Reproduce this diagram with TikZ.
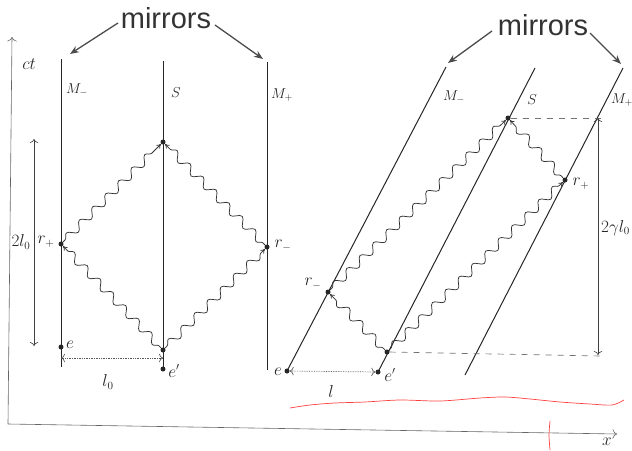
\documentclass[tikz,border=0pt]{standalone}
\usepackage{fontspec}
\newfontfamily\mirfont{Liberation Sans}
\usetikzlibrary{arrows.meta,decorations.pathmorphing}
\begin{document}
\begin{tikzpicture}[x=1pt,y=-1pt,
 wline/.style={line width=1pt, draw=black!85},
 wave/.style={line width=0.75pt, draw=black!80, decorate,
   decoration={snake, amplitude=4pt, segment length=18.5pt, pre length=3pt, post length=5pt},
   -{To[length=4.5pt,width=5pt]}},
 ev/.style={circle, fill=black!85, inner sep=0pt, minimum size=5pt},
 lab/.style={font=\fontsize{16}{16}\selectfont, inner sep=1pt, text=black!85},
 mlab/.style={font=\fontsize{14}{14}\selectfont, inner sep=1pt, text=black!85},
 mir/.style={font=\mirfont\fontsize{29}{29}\selectfont, text=black!80, inner sep=0pt, anchor=base},
 mirarrow/.style={line width=1.3pt, draw=black!70, -{Stealth[length=9pt,width=7pt]}},
 dimsolid/.style={line width=0.6pt, draw=black!75, {To[length=4pt]}-{To[length=4pt]}},
 dimdot/.style={line width=0.7pt, draw=black!65, densely dotted, {To[length=4pt]}-{To[length=4pt]}},
 guide/.style={line width=0.7pt, draw=black!55, dash pattern=on 6pt off 6pt},
 axis/.style={line width=0.6pt, draw=black!60, -{To[length=4.5pt]}},
]
\useasboundingbox (0,0) rectangle (632,450);

% ---------- axes ----------
\coordinate (O) at (8,424);
\coordinate (ctend) at (12,37);
\coordinate (xend) at (617,434);
\draw[axis] (O) -- (ctend);
\draw[axis] (O) -- (xend);
\node[lab] (ct) at (29,64) {$ct$};
\node[lab] (xl) at (607,442) {$x$};

% ---------- left diagram ----------
\coordinate (LMmt) at (61,59);  \coordinate (LMmb) at (61,367);
\coordinate (LSt) at (163,61);  \coordinate (LSb) at (163,369);
\coordinate (LMpt) at (267,62); \coordinate (LMpb) at (267,370);
\draw[wline] (LMmt) -- (LMmb);
\draw[wline] (LSt) -- (LSb);
\draw[wline] (LMpt) -- (LMpb);
\node[mlab] (LMmlab) at (77,90) {$M_-$};
\node[mlab] (LSlab) at (176,93) {$S$};
\node[mlab] (LMplab) at (282,95) {$M_+$};

\node[ev] (Ltop) at (163,142) {};
\node[ev] (Lrp) at (61,244) {};
\node[ev] (Lrm) at (267,247) {};
\node[ev] (Lem) at (163,350) {};
\node[ev] (Le) at (61,347) {};
\node[ev] (Lep) at (163,369) {};

\draw[wave] (Lem) -- (Lrp);
\draw[wave] (Lem) -- (Lrm);
\draw[wave] (Lrp) -- (Ltop);
\draw[wave] (Lrm) -- (Ltop);

\node[lab] (Lrplab) at (46,242) {$r_+$};
\node[lab] (Lrmlab) at (283,246) {$r_-$};
\node[lab] (Lelab) at (70,345) {$e$};
\node[lab] (Leplab) at (174,371) {$e'$};

\coordinate (Ll0a) at (61,358); \coordinate (Ll0b) at (163,358);
\draw[dimdot] (Ll0a) -- (Ll0b);
\node[lab] (Ll0lab) at (108,382) {$l_0$};

\coordinate (L2a) at (34,139); \coordinate (L2b) at (34,346);
\draw[dimsolid] (L2a) -- (L2b);
\node[lab] (L2lab) at (21,242) {$2l_0$};

% mirrors (left)
\node[mir] (mirL) at (166,28) {mirrors};
\coordinate (mLa) at (118,23); \coordinate (mLb) at (70,54);
\coordinate (mLc) at (215,25); \coordinate (mLd) at (263,59);
\draw[mirarrow] (mLa) -- (mLb);
\draw[mirarrow] (mLc) -- (mLd);

% ---------- right diagram ----------
\coordinate (RMmt) at (446,67);  \coordinate (RMmb) at (287,371);
\coordinate (RSt) at (535,68);   \coordinate (RSb) at (378,372);
\coordinate (RMpt) at (623,68);  \coordinate (RMpb) at (465,375);
\draw[wline] (RMmt) -- (RMmb);
\draw[wline] (RSt) -- (RSb);
\draw[wline] (RMpt) -- (RMpb);
\node[mlab] (RMmlab) at (454,97) {$M_-$};
\node[mlab] (RSlab) at (532,100) {$S$};
\node[mlab] (RMplab) at (622,100) {$M_+$};

\node[ev] (Rtop) at (508,118) {};
\node[ev] (Rrp) at (565,180) {};
\node[ev] (Rrm) at (328,292) {};
\node[ev] (Rem) at (387,352) {};
\node[ev] (Re) at (287,371) {};
\node[ev] (Rep) at (378,372) {};

\draw[wave] (Rem) -- (Rrm);
\draw[wave] (Rrm) -- (Rtop);
\draw[wave] (Rem) -- (Rrp);
\draw[wave] (Rrp) -- (Rtop);

\node[lab] (Rrplab) at (581,184) {$r_+$};
\node[lab] (Rrmlab) at (313,284) {$r_-$};
\node[lab] (Relab) at (278,372) {$e$};
\node[lab] (Replab) at (390,375) {$e'$};

\coordinate (Rg1) at (606,118); \coordinate (Rg2) at (602,356);
\draw[guide] (Rtop) -- (Rg1);
\draw[guide] (Rem) -- (Rg2);
\coordinate (R2a) at (598,118); \coordinate (R2b) at (598,355);
\draw[dimsolid] (R2a) -- (R2b);
\node[lab, anchor=west] (R2lab) at (600,228) {$2\gamma l_0$};

\draw[dimdot] (Re) -- (Rep);
\node[lab] (Rllab) at (331,391) {$l$};

% mirrors (right)
\node[mir] (mirR) at (543,35) {mirrors};
\coordinate (mRa) at (492,31); \coordinate (mRb) at (448,63);
\coordinate (mRc) at (590,33); \coordinate (mRd) at (621,64);
\draw[mirarrow] (mRa) -- (mRb);
\draw[mirarrow] (mRc) -- (mRd);

% ---------- red pen marks ----------
\draw[red!75, line width=0.7pt] plot[smooth] coordinates
  {(290,408) (310,405) (335,403) (365,402) (400,400) (440,401) (480,398) (505,397) (530,399) (560,402) (590,404) (612,405) (624,400)};
\draw[red!75, line width=0.7pt] plot[smooth] coordinates {(550,421) (549,435) (550,450)};
\end{tikzpicture}
\end{document}
